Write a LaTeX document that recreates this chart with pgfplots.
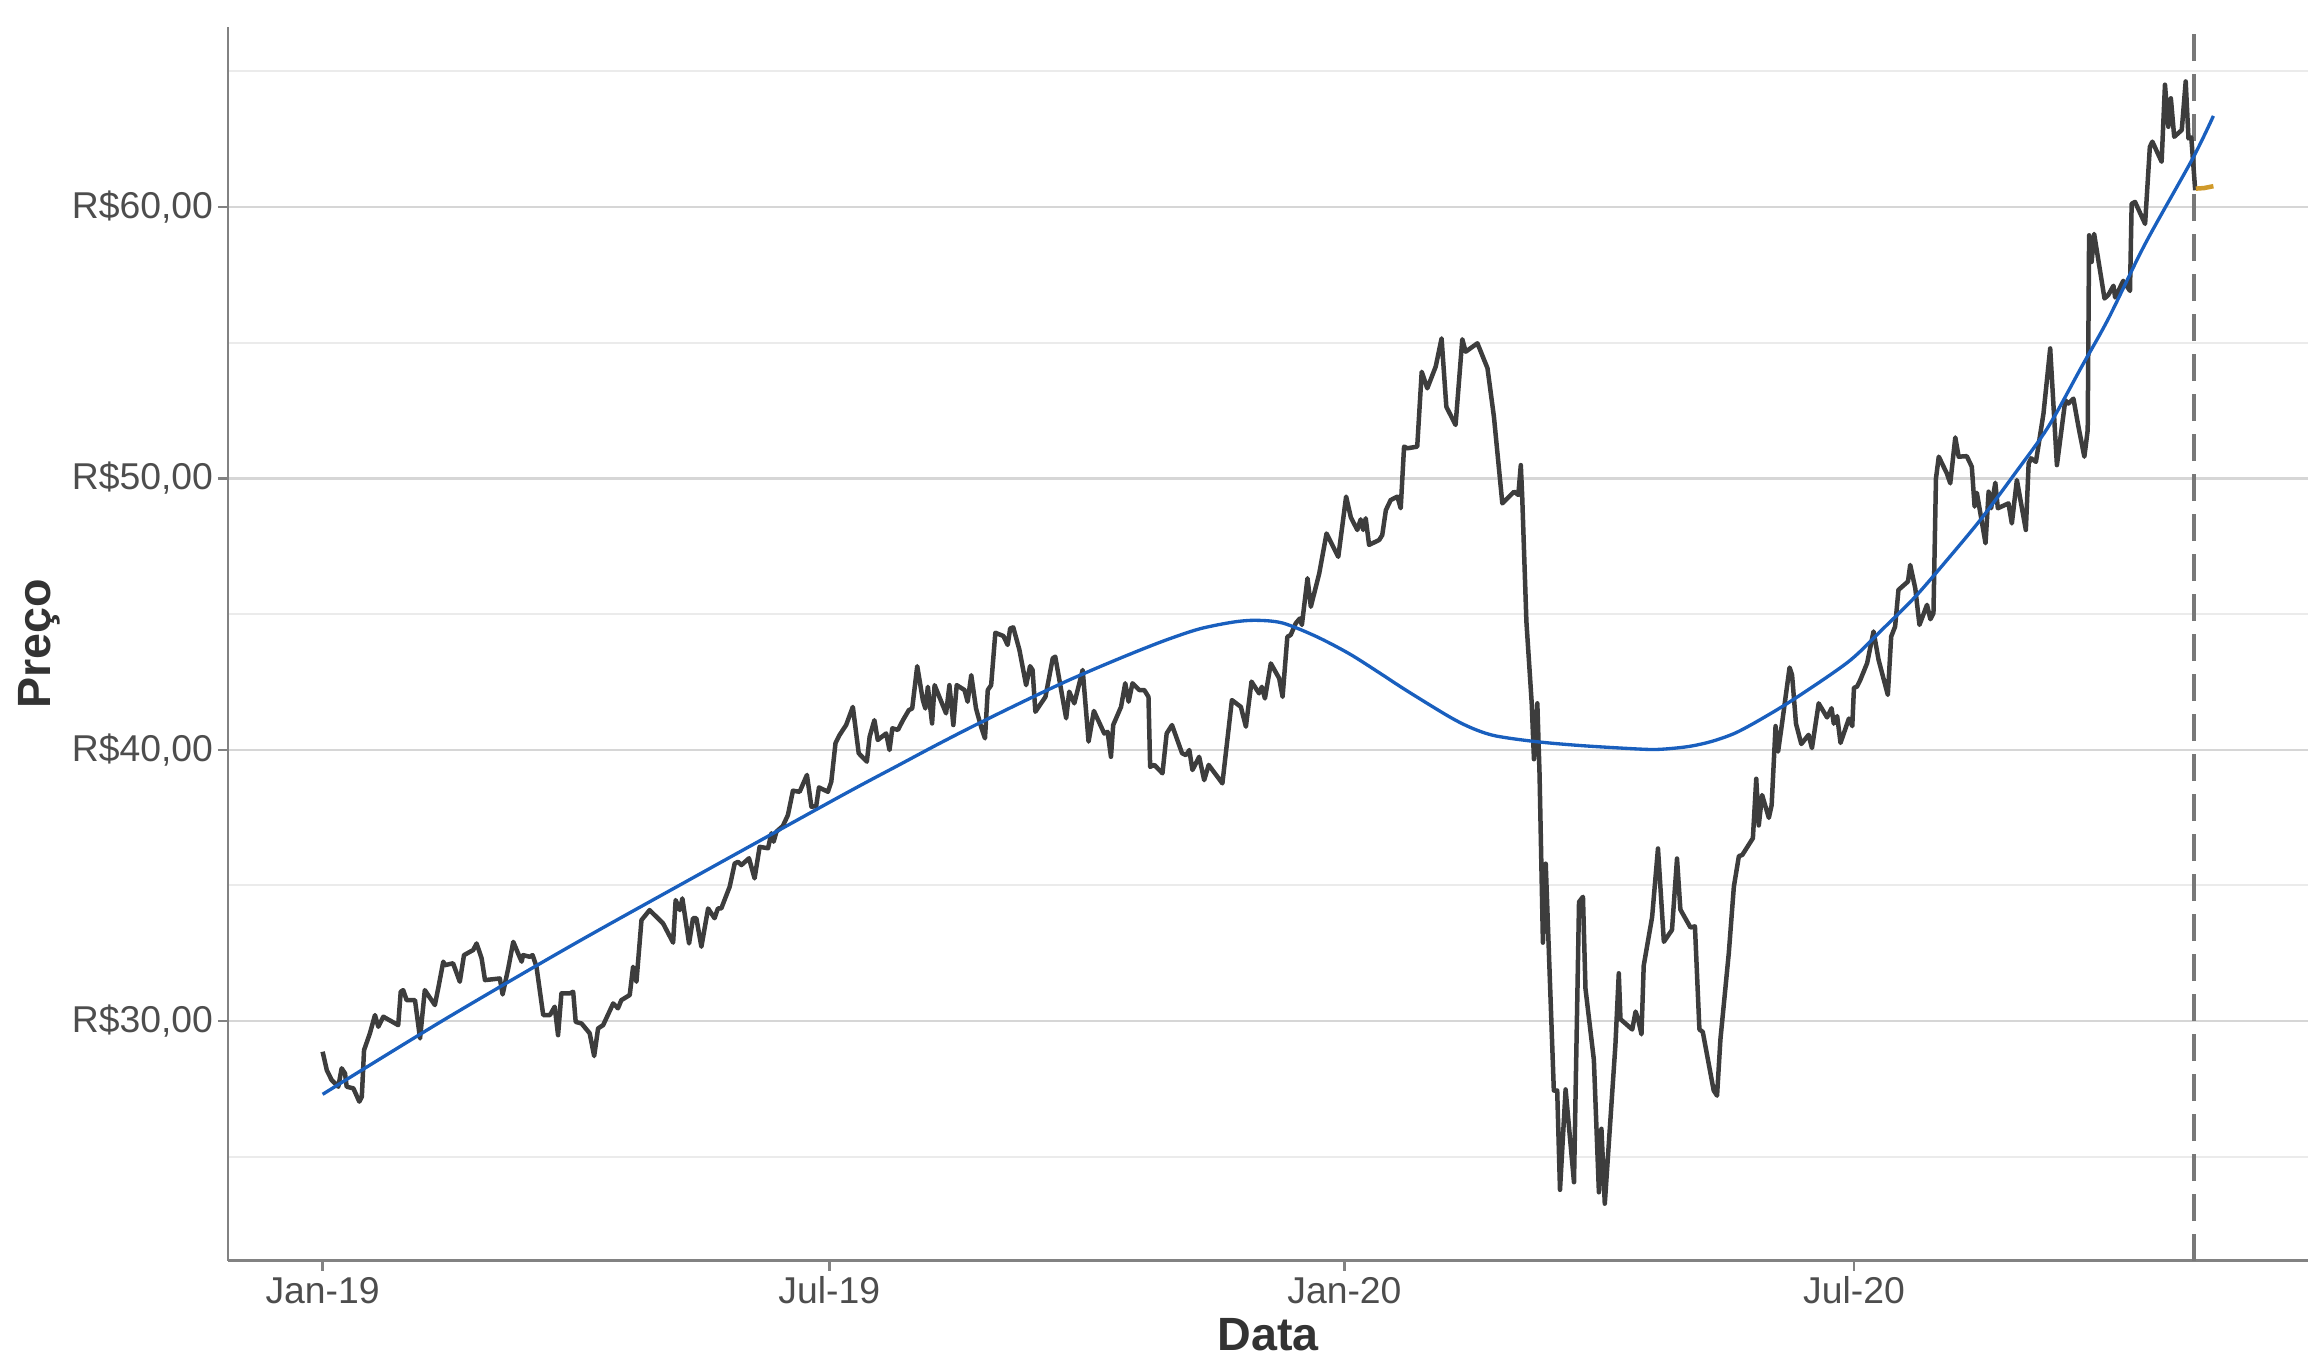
\documentclass[border=0pt]{standalone}
\usepackage{pgfplots}
\pgfplotsset{compat=1.18}
\usepackage{fontspec}
\setmainfont{Liberation Sans}

\definecolor{price}{RGB}{61,61,61}
\definecolor{loess}{RGB}{25,95,190}
\definecolor{fcast}{RGB}{208,154,42}
\definecolor{vline}{RGB}{120,120,120}
\definecolor{axisgray}{RGB}{130,130,130}
\definecolor{gridmaj}{RGB}{214,214,214}
\definecolor{gridmin}{RGB}{235,235,235}
\definecolor{ticktext}{RGB}{77,77,77}
\definecolor{titletext}{RGB}{51,51,51}

% x = days since 2019-01-01
\pgfplotstableread{
d v
0 28.87
1.5 28.19
3.2 27.83
5.6 27.58
6.8 28.26
8.0 28.07
8.6 27.58
11.0 27.52
13.1 27.03
14.0 27.21
14.8 28.93
16.9 29.55
18.7 30.22
19.9 29.79
21.7 30.16
27.0 29.85
27.9 31.08
28.8 31.14
30.0 30.77
33.0 30.77
34.8 29.36
36.5 31.14
40.1 30.59
41.3 31.21
43.1 32.19
43.7 32.06
46.6 32.13
49.0 31.45
50.5 32.43
53.8 32.62
55.0 32.86
56.8 32.31
58.0 31.51
63.3 31.57
64.3 30.98
66.3 31.94
68.1 32.92
69.8 32.50
71.1 32.19
71.6 32.43
74.0 32.37
75.0 32.43
76.4 32.00
78.8 30.22
81.2 30.22
82.9 30.53
84.1 29.48
85.3 31.02
88.3 31.02
89.5 31.08
90.4 29.97
92.5 29.91
95.4 29.55
97.0 28.71
98.4 29.73
100.2 29.85
103.8 30.65
105.5 30.47
106.7 30.77
109.7 30.96
110.9 32.00
112.1 31.45
113.9 33.72
116.8 34.09
121.6 33.60
125.2 32.89
126.1 34.46
127.6 34.09
128.5 34.52
130.9 32.86
132.3 33.79
133.5 33.79
135.3 32.74
137.7 34.15
140.0 33.79
141.2 34.15
142.4 34.15
145.4 34.95
147.2 35.81
148.4 35.87
149.6 35.75
152.3 36.00
154.3 35.26
156.1 36.42
159.1 36.37
160.3 36.92
161.1 36.61
162.1 36.98
164.4 37.19
166.2 37.59
168.0 38.49
170.4 38.45
173.0 39.07
174.6 37.90
176.3 37.92
177.3 38.61
180.5 38.45
181.7 38.82
183.2 40.24
184.7 40.55
187.0 40.91
189.4 41.58
191.5 39.87
194.4 39.56
195.4 40.48
197.1 41.09
198.3 40.36
201.3 40.60
202.5 39.99
203.5 40.79
205.5 40.73
207.3 41.09
209.4 41.46
210.6 41.52
212.4 43.08
214.4 41.83
215.3 41.52
216.2 42.32
217.7 40.97
218.6 42.38
222.7 41.34
223.9 42.38
225.3 40.91
226.5 42.38
229.3 42.20
230.4 41.77
231.7 42.75
233.4 41.52
235.2 40.85
236.6 40.42
237.6 42.20
238.8 42.38
240.3 44.31
243.2 44.19
244.7 43.86
245.6 44.47
246.7 44.51
248.9 43.68
251.3 42.38
252.7 43.08
253.6 42.94
254.6 41.40
258.2 41.95
260.8 43.37
261.7 43.43
265.6 41.16
266.7 42.14
268.5 41.71
271.5 42.94
273.6 40.30
275.5 41.43
279.2 40.60
280.4 40.66
281.6 39.74
282.4 40.91
285.2 41.58
286.7 42.45
287.9 41.77
289.3 42.45
291.7 42.20
293.5 42.20
295.0 41.95
295.6 39.37
297.1 39.44
300.0 39.13
301.5 40.60
303.4 40.91
307.0 39.87
308.4 39.80
309.6 39.99
310.7 39.25
313.1 39.74
314.9 38.88
316.5 39.44
321.4 38.76
324.8 41.83
328.0 41.58
329.8 40.85
331.8 42.51
334.5 42.08
335.5 42.32
336.6 41.89
338.7 43.18
341.7 42.63
342.9 41.95
344.6 44.16
345.8 44.23
347.6 44.66
349.1 44.84
349.8 44.60
351.8 46.32
353.0 45.27
356.0 46.50
358.6 47.97
362.8 47.11
365.6 49.33
367.3 48.56
369.6 48.10
370.8 48.49
371.7 48.10
372.6 48.53
373.8 47.55
377.4 47.73
378.5 47.91
379.8 48.83
381.5 49.20
383.9 49.33
385.1 48.90
386.3 51.17
387.5 51.11
391.0 51.17
392.6 53.93
394.6 53.32
397.6 54.12
399.7 55.16
401.4 52.64
404.7 51.97
407.1 55.13
408.3 54.67
412.5 54.98
416.1 54.06
418.4 52.27
421.4 49.08
422.6 49.20
425.6 49.51
427.1 49.39
428.0 50.49
428.5 49.33
430.0 44.72
431.9 41.71
432.7 39.65
433.9 41.71
434.7 39.08
435.9 32.89
436.9 35.80
439.8 27.44
441.0 27.44
442.0 23.78
444.0 27.48
447.0 24.06
448.8 34.39
450.2 34.58
451.1 31.20
454.1 28.57
455.9 23.69
456.8 26.03
458.0 23.27
461.8 29.13
463.0 31.76
463.6 30.07
467.8 29.69
469.0 30.35
469.9 30.07
471.1 29.51
471.9 32.04
474.9 33.83
477.0 36.36
479.1 32.92
482.0 33.36
483.8 35.99
485.0 34.11
488.6 33.45
490.2 33.49
491.8 29.69
493.0 29.60
496.9 27.44
498.1 27.25
499.3 29.32
502.3 32.51
504.1 34.95
505.9 36.08
507.1 36.12
510.9 36.74
512.1 38.93
513.0 37.21
514.2 38.33
516.6 37.49
517.6 37.96
519.0 40.87
519.9 39.93
521.3 40.96
524.0 43.03
524.9 42.75
526.3 40.96
528.2 40.21
530.8 40.55
532.0 40.06
534.4 41.71
537.4 41.19
539.0 41.53
539.8 40.96
541.0 41.24
542.2 40.25
545.2 41.15
546.4 40.87
547.0 42.28
548.1 42.33
549.3 42.58
551.7 43.19
554.0 44.36
555.8 43.31
559.1 42.02
560.3 44.17
561.7 44.54
562.9 45.89
566.3 46.20
567.1 46.81
568.9 45.95
570.4 44.60
573.1 45.34
574.3 44.81
575.4 45.03
576.3 50.00
577.3 50.80
580.2 50.18
581.4 49.82
583.2 51.51
584.4 50.80
587.3 50.82
589.1 50.43
590.1 48.96
590.9 49.47
594.0 47.61
595.1 49.51
596.0 48.90
597.5 49.84
598.4 48.90
602.2 49.08
603.4 48.34
605.2 49.94
608.4 48.10
609.4 50.55
610.3 50.74
612.0 50.61
614.7 52.39
617.1 54.79
619.5 50.49
622.5 52.88
623.6 52.76
625.4 52.94
627.2 51.90
629.3 50.80
630.5 51.78
631.0 58.96
631.9 57.98
632.8 59.01
636.5 56.63
637.9 56.77
639.7 57.10
640.3 56.67
643.2 57.28
644.4 57.10
645.6 56.91
646.2 60.12
647.4 60.19
651.0 59.38
652.7 62.22
653.6 62.41
656.9 61.67
658.1 64.51
659.3 62.96
660.2 64.01
661.4 62.59
664.1 62.84
665.5 64.63
666.5 62.53
667.5 62.57
668.9 60.62
}\precos

\pgfplotstableread{
d v
0 27.30
43.1 30.03
88.3 32.75
130 35.15
184.7 38.27
206.1 39.45
217.9 40.10
229.9 40.74
241.8 41.35
253.6 41.94
265.6 42.52
277.4 43.05
289.3 43.56
301.2 44.04
313.1 44.45
325.0 44.70
333.4 44.77
342.9 44.67
354.8 44.18
366.7 43.54
378.0 42.80
386.9 42.20
402.4 41.22
410.7 40.79
419.0 40.51
433.3 40.30
449.9 40.15
471.3 40.02
478.5 40.02
488.0 40.12
496.3 40.31
504.7 40.62
514.2 41.15
526.1 41.90
545.1 43.25
557.0 44.42
568.9 45.64
580.8 47.06
592.6 48.53
604.5 50.18
616.4 51.90
628.3 54.11
637.9 55.89
651.0 58.64
668.0 61.79
675.4 63.36
}\tendencia

\pgfplotstableread{
d v
669.1 60.68
672.0 60.70
675.4 60.77
}\previsao

\begin{document}
\begin{tikzpicture}
\begin{axis}[
  width=624pt, height=370.2pt, scale only axis,
  xmin=-33.8, xmax=709.2, ymin=21.17, ymax=66.65,
  axis x line*=bottom, axis y line*=left,
  axis line style={draw=axisgray, line width=0.85pt},
  xtick={0,181,365,547},
  xticklabels={Jan-19,Jul-19,Jan-20,Jul-20},
  ytick={30,40,50,60},
  yticklabels={{R\$30,00},{R\$40,00},{R\$50,00},{R\$60,00}},
  minor ytick={25,35,45,55,65},
  ymajorgrids, yminorgrids,
  major grid style={draw=gridmaj, line width=0.7pt},
  minor grid style={draw=gridmin, line width=0.55pt},
  tick align=outside, major tick length=3pt, minor tick length=0pt,
  tick style={draw=axisgray, line width=0.7pt},
  ticklabel style={font=\fontsize{11.2}{13}\selectfont, text=ticktext},
  xticklabel style={anchor=base, inner sep=0pt, yshift=-10pt},
  yticklabel style={anchor=east, inner sep=0pt, xshift=-1.3pt},
  xlabel={Data}, ylabel={Preço},
  xlabel style={at={(axis description cs:0.5,-0.0732)}, anchor=base,
    font=\bfseries\fontsize{14}{16}\selectfont, text=titletext},
  ylabel style={at={(axis description cs:-0.0851,0.5)}, anchor=base,
    font=\bfseries\fontsize{14}{16}\selectfont, text=titletext},
]
\addplot[vline, line width=1.2pt, dash pattern=on 8pt off 4pt] coordinates {(668.5,21.17) (668.5,66.65)};
\addplot[price, line width=1.35pt, line join=round] table[x=d, y=v] {\precos};
\addplot[fcast, line width=1.35pt] table[x=d, y=v] {\previsao};
\addplot[loess, line width=1pt, smooth] table[x=d, y=v] {\tendencia};
\coordinate (bl) at (rel axis cs:0,0);
\coordinate (tr) at (rel axis cs:1,1);
\end{axis}
\pgfresetboundingbox
\path (bl) ++(-68.4pt,-32.5pt) rectangle ([shift={(3.6pt,8pt)}]tr);
\end{tikzpicture}
\end{document}
